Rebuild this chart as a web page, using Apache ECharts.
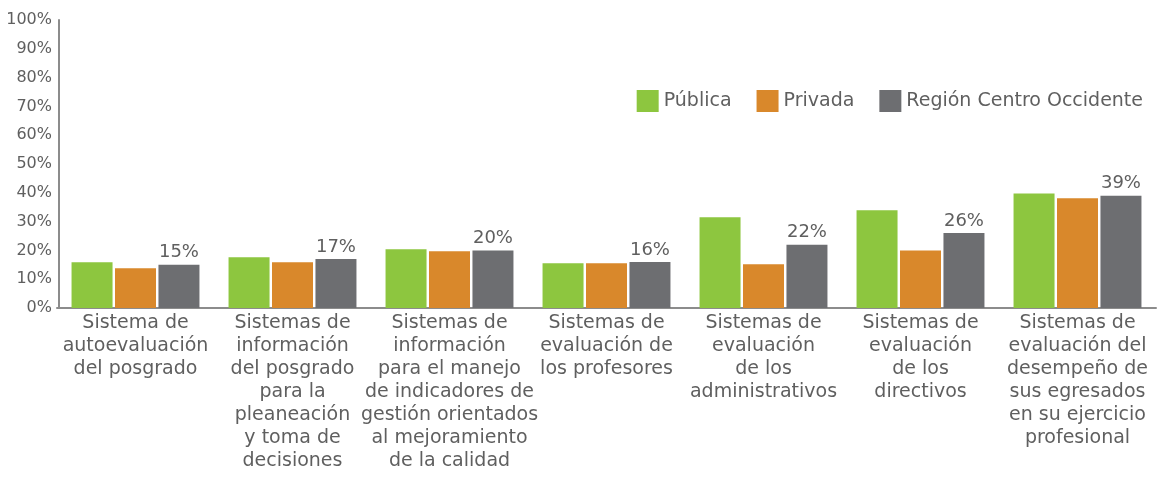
<!DOCTYPE html>
<html>
<head>
<meta charset="utf-8">
<script src="https://cdn.jsdelivr.net/npm/echarts@6/dist/echarts.min.js"></script>
<style>
  html, body { margin: 0; padding: 0; background: #fff; }
  #chart { width: 1162px; height: 487px; }
</style>
</head>
<body>
<div id="chart"></div>
<script>
// categorias (saltos de linea como en el original)
const categories = [
  'Sistema de\nautoevaluación\ndel posgrado',
  'Sistemas de\ninformación\ndel posgrado\npara la\npleaneación\ny toma de\ndecisiones',
  'Sistemas de\ninformación\npara el manejo\nde indicadores de\ngestión orientados\nal mejoramiento\nde la calidad',
  'Sistemas de\nevaluación de\nlos profesores',
  'Sistemas de\nevaluación\nde los\nadministrativos',
  'Sistemas de\nevaluación\nde los\ndirectivos',
  'Sistemas de\nevaluación del\ndesempeño de\nsus egresados\nen su ejercicio\nprofesional'
]

// valores (%)
const publica = [15.9, 17.6, 20.4, 15.5, 31.5, 33.9, 39.8]
const privada = [13.8, 15.9, 19.7, 15.5, 15.2, 20.0, 38.1]
const region = [15, 17, 20, 16, 22, 26, 39]

const seriesNames = ['Pública', 'Privada', 'Región Centro Occidente']
const colors = ['#8DC63F', '#D9882B', '#6D6E71']

const font = 'DejaVu Sans'
const textColor = '#5f5f5f'

const chart = echarts.init(document.getElementById('chart'))

const option = {
  animation: false,
  color: colors,
  textStyle: { fontFamily: font },
  legend: {
    data: seriesNames,
    right: 14,
    top: 85,
    itemWidth: 22,
    itemHeight: 22,
    itemGap: 25,
    icon: 'rect',
    textStyle: {
      fontFamily: font,
      fontSize: 19,
      color: textColor
    }
  },
  grid: {
    left: 57,
    right: 6,
    top: 20,
    bottom: 179
  },
  xAxis: {
    type: 'category',
    data: categories,
    axisLine: { lineStyle: { color: '#8c8c8c', width: 2 } },
    axisTick: { show: false },
    axisLabel: {
      interval: 0,
      margin: 4,
      fontSize: 19,
      lineHeight: 23,
      color: textColor,
      fontFamily: font
    }
  },
  yAxis: {
    type: 'value',
    min: 0,
    max: 100,
    interval: 10,
    offset: -2,
    axisLine: { show: true, lineStyle: { color: '#8c8c8c', width: 2 } },
    axisTick: { show: false },
    splitLine: { show: false },
    axisLabel: {
      formatter: '{value}%',
      fontSize: 16,
      margin: 7,
      color: textColor,
      fontFamily: font
    }
  },
  series: [
    {
      name: seriesNames[0],
      type: 'bar',
      data: publica,
      barWidth: 41,
      barGap: '6%'
    },
    {
      name: seriesNames[1],
      type: 'bar',
      data: privada,
      barWidth: 41,
      barGap: '6%'
    },
    {
      name: seriesNames[2],
      type: 'bar',
      data: region,
      barWidth: 41,
      barGap: '6%',
      label: {
        show: true,
        position: 'top',
        distance: 3,
        formatter: '{c}%',
        fontSize: 18,
        color: textColor,
        fontFamily: font
      }
    }
  ]
}

chart.setOption(option)
</script>
</body>
</html>
